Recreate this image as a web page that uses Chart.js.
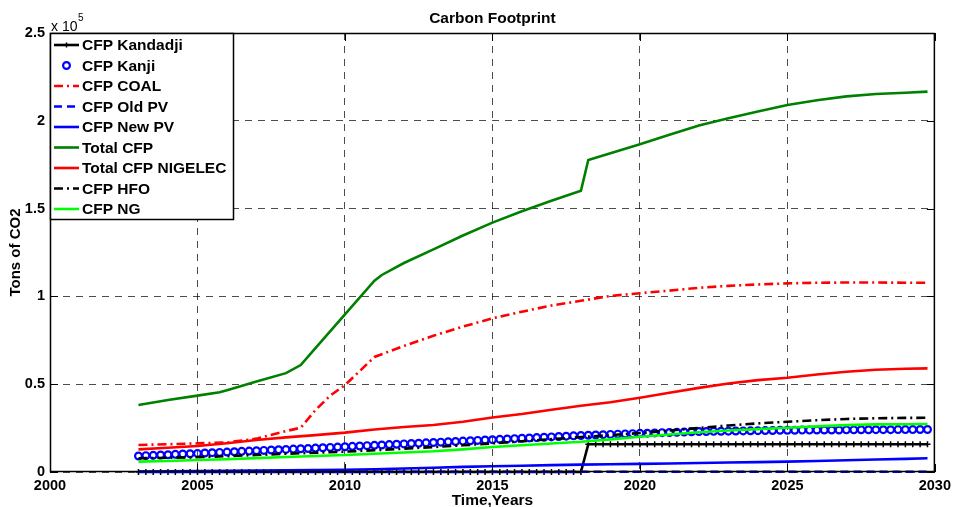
<!DOCTYPE html>
<html>
<head>
<meta charset="utf-8">
<script src="https://cdn.jsdelivr.net/npm/chart.js@4"></script>
<style>
  html, body { margin: 0; padding: 0; background: #fff; }
  #wrap { width: 956px; height: 507px; position: relative; }
</style>
</head>
<body>
<div id="wrap"><canvas id="cfpChart"></canvas></div>
<script>
// tick positions
const xTicks = [2000, 2005, 2010, 2015, 2020, 2025, 2030];
const yTicks = [0, 50000, 100000, 150000, 200000, 250000];

// common yearly grid for most series
const years = [2003, 2004, 2005, 2006, 2007, 2008, 2009, 2010, 2011, 2012, 2013, 2014, 2015, 2016,
    2017, 2018, 2019, 2020, 2021, 2022, 2023, 2024, 2025, 2026, 2027, 2028, 2029, 2029.75];

// quarterly time grid (Kandadji / Kanji are sampled every quarter)
const quarters = [];
for (let q = 0; q < 108; q++) quarters.push(2003 + q / 4);

const kandadji = [
    0, 0, 0, 0, 0, 0, 0, 0, 0, 0, 0, 0, 0, 0, 0, 0, 0, 0, 0, 0,
    0, 0, 0, 0, 0, 0, 0, 0, 0, 0, 0, 0, 0, 0, 0, 0, 0, 0, 0, 0,
    0, 0, 0, 0, 0, 0, 0, 0, 0, 0, 0, 0, 0, 0, 0, 0, 0, 0, 0, 0,
    0,
    15800, 15800, 15800, 15800, 15800, 15800, 15800, 15800, 15800, 15800,
    15800, 15800, 15800, 15800, 15800, 15800, 15800, 15800, 15800, 15800,
    15800, 15800, 15800, 15800, 15800, 15800, 15800, 15800, 15800, 15800,
    15800, 15800, 15800, 15800, 15800, 15800, 15800, 15800, 15800, 15800,
    15800, 15800, 15800, 15800, 15800, 15800, 15800
];

const kanji = [
    9100, 9300, 9500, 9650,      9850, 10050, 10250, 10400,
    10600, 10800, 11000, 11150,  11350, 11550, 11750, 11900,
    12100, 12300, 12500, 12650,  12850, 13050, 13250, 13400,
    13600, 13800, 14000, 14200,  14400, 14600, 14800, 15000,
    15200, 15400, 15600, 15800,  16000, 16200, 16400, 16600,
    16800, 17000, 17200, 17400,  17600, 17800, 18000, 18200,
    18400, 18600, 18800, 19000,  19200, 19400, 19600, 19800,
    20000, 20200, 20400, 20600,  20800, 20950, 21100, 21250,
    21400, 21550, 21700, 21850,  22000, 22100, 22250, 22400,
    22500, 22650, 22750, 22900,  23000, 23050, 23150, 23200,
    23250, 23350, 23400, 23450,  23550, 23600, 23650, 23750,
    23800, 23800, 23850, 23850,  23900, 23900, 23950, 23950,
    24000, 24000, 24050, 24050,  24100, 24100, 24100, 24150,
    24150, 24150, 24200, 24200
];

const coalYears = [2003, 2004, 2005, 2006, 2007, 2008, 2008.5, 2009, 2009.5, 2010, 2010.5, 2011,
    2012, 2013, 2014, 2015, 2016, 2017, 2018, 2019, 2020, 2021, 2022, 2023, 2024, 2025,
    2026, 2027, 2028, 2029, 2029.75];
const coal = [15400, 15800, 16300, 16800, 19000, 23300, 25200, 35300, 43500, 49500, 57500, 65500,
    71800, 77600, 82800, 87500, 91300, 94800, 97500, 100300, 101800, 103300, 104900, 106000, 106800, 107400,
    107800, 107900, 107900, 107800, 107800];

const oldPv = [100, 100, 100, 100, 100, 100, 100, 100, 100, 100, 100, 100, 100, 100,
    100, 100, 100, 100, 100, 100, 100, 100, 100, 100, 100, 100, 100, 100];

const newPv = [300, 400, 500, 650, 800, 900, 1100, 1300, 1600, 2000, 2400, 2900, 3300, 3600,
    3900, 4200, 4400, 4600, 4800, 5100, 5400, 5600, 5900, 6300, 6700, 7100, 7500, 7800];

const totalYears = [2003, 2004, 2005, 2005.75, 2006, 2007, 2008, 2008.5, 2009, 2010, 2011, 2011.25,
    2012, 2013, 2014, 2015, 2016, 2017, 2018, 2018.25, 2019, 2020, 2021, 2022, 2023, 2024,
    2025, 2026, 2027, 2028, 2029, 2029.75];
const totalCfp = [38150, 41000, 43500, 45400, 46600, 51500, 56300, 60900, 70500, 89800, 109000, 112200,
    119000, 126800, 134700, 142000, 148500, 154500, 160200, 177700, 181500, 186600, 192000, 197300, 201500, 205300,
    209000, 211700, 213900, 215300, 216000, 216600];

const nigelec = [12900, 13800, 14800, 16400, 18200, 19700, 21000, 22400, 24200, 25600, 26800, 28600, 31000, 33000,
    35500, 37700, 39700, 42300, 45100, 47900, 50400, 52300, 53700, 55500, 57100, 58200, 58800, 59000];

const hfo = [7800, 8100, 8400, 9000, 9700, 10400, 11000, 11600, 12400, 13300, 14200, 15200, 16300, 17500,
    18700, 19900, 21000, 22200, 23600, 25100, 26500, 27700, 28600, 29500, 30200, 30600, 30800, 30900];

const ng = [5900, 6300, 6800, 7300, 7900, 8500, 9100, 9700, 10400, 11100, 11800, 12900, 14200, 15200,
    16200, 17200, 18600, 20100, 21400, 22600, 23600, 24400, 25200, 26000, 26700, 27100, 27200, 27300];

const toXY = (xs, ys) => ys.map((v, i) => ({ x: xs[i], y: v }));

const FONT = '"Liberation Sans", Arial, sans-serif';
Chart.defaults.font.family = FONT;
Chart.defaults.color = '#000';

const base = { borderWidth: 2.6, pointRadius: 0, tension: 0, clip: false, fill: false };

const datasets = [
    { ...base, label: 'CFP Kandadji', data: toXY(quarters, kandadji), borderColor: '#000',
      pointRadius: 3, pointStyle: 'cross', pointBorderWidth: 1.5, pointBorderColor: '#000' },
    { ...base, label: 'CFP Kanji', data: toXY(quarters, kanji), borderColor: '#0000ff', showLine: false,
      pointRadius: 3.4, pointStyle: 'circle', pointBorderWidth: 2.2, pointBorderColor: '#0000ff',
      pointBackgroundColor: 'rgba(0,0,0,0)' },
    { ...base, label: 'CFP COAL', data: toXY(coalYears, coal), borderColor: '#ff0000', borderDash: [9, 4, 2, 4] },
    { ...base, label: 'CFP Old PV', data: toXY(years, oldPv), borderColor: '#0000ff', borderDash: [8, 5] },
    { ...base, label: 'CFP New PV', data: toXY(years, newPv), borderColor: '#0000ff' },
    { ...base, label: 'Total CFP', data: toXY(totalYears, totalCfp), borderColor: '#008000' },
    { ...base, label: 'Total CFP NIGELEC', data: toXY(years, nigelec), borderColor: '#ff0000' },
    { ...base, label: 'CFP HFO', data: toXY(years, hfo), borderColor: '#000', borderDash: [9, 4, 2, 4] },
    { ...base, label: 'CFP NG', data: toXY(years, ng), borderColor: '#00ff00' }
];
// later series on top, as in the original plot
datasets.forEach((d, i) => { d.order = datasets.length - i; });

const matlabDecor = {
    id: 'matlabDecor',
    afterDraw(chart) {
        const { ctx, chartArea: a, scales: { x, y } } = chart;
        ctx.save();

        // inward tick marks + frame
        ctx.strokeStyle = '#000';
        ctx.lineWidth = 1;
        ctx.setLineDash([]);
        ctx.beginPath();
        xTicks.forEach(t => {
            const px = Math.round(x.getPixelForValue(t)) + 0.5;
            ctx.moveTo(px, a.bottom); ctx.lineTo(px, a.bottom - 8);
            ctx.moveTo(px, a.top); ctx.lineTo(px, a.top + 8);
        });
        yTicks.forEach(t => {
            const py = Math.round(y.getPixelForValue(t)) + 0.5;
            ctx.moveTo(a.left, py); ctx.lineTo(a.left + 8, py);
            ctx.moveTo(a.right, py); ctx.lineTo(a.right - 8, py);
        });
        ctx.stroke();
        ctx.lineWidth = 1.5;
        ctx.strokeRect(a.left + 0.5, a.top + 0.5, a.width - 1, a.height - 1);

        // legend box
        const lx = a.left, ly = a.top, lw = 183, lh = 186, rowH = 20.5;
        ctx.fillStyle = '#fff';
        ctx.fillRect(lx, ly, lw, lh);
        ctx.strokeRect(lx + 0.5, ly + 0.5, lw, lh);
        ctx.font = 'bold 15.5px ' + FONT;
        ctx.textBaseline = 'middle';
        ctx.textAlign = 'left';
        chart.data.datasets.forEach((d, i) => {
            const cy = ly + 12 + i * rowH;
            const x0 = lx + 4, x1 = lx + 29, cx = (x0 + x1) / 2;
            if (d.showLine !== false) {
                ctx.strokeStyle = d.borderColor;
                ctx.lineWidth = 2.6;
                ctx.setLineDash(d.borderDash || []);
                ctx.beginPath();
                ctx.moveTo(x0, cy); ctx.lineTo(x1, cy);
                ctx.stroke();
                ctx.setLineDash([]);
            }
            if (d.pointRadius > 0) {
                ctx.strokeStyle = d.pointBorderColor;
                ctx.lineWidth = d.pointBorderWidth;
                ctx.beginPath();
                if (d.pointStyle === 'circle') {
                    ctx.arc(cx, cy, d.pointRadius, 0, Math.PI * 2);
                } else {
                    ctx.moveTo(cx - 2.5, cy); ctx.lineTo(cx + 2.5, cy);
                    ctx.moveTo(cx, cy - 2.5); ctx.lineTo(cx, cy + 2.5);
                }
                ctx.stroke();
            }
            ctx.fillStyle = '#000';
            ctx.fillText(d.label, lx + 32, cy + 1);
        });

        // title and axis labels
        ctx.fillStyle = '#000';
        ctx.textAlign = 'center';
        ctx.textBaseline = 'alphabetic';
        ctx.font = 'bold 15.5px ' + FONT;
        ctx.fillText('Carbon Footprint', (a.left + a.right) / 2, 22.5);
        ctx.fillText('Time,Years', (a.left + a.right) / 2, 505);

        ctx.save();
        ctx.translate(20, (a.top + a.bottom) / 2);
        ctx.rotate(-Math.PI / 2);
        ctx.font = 'bold 15px ' + FONT;
        ctx.fillText('Tons of CO2', 0, 0);
        ctx.restore();

        // exponent label
        ctx.textAlign = 'left';
        ctx.font = '14px ' + FONT;
        ctx.fillText('x 10', a.left + 1, 30.5);
        ctx.font = '10px ' + FONT;
        ctx.fillText('5', a.left + 28, 21);

        ctx.restore();
    }
};

new Chart(document.getElementById('cfpChart'), {
    type: 'line',
    data: { datasets },
    options: {
        responsive: true,
        maintainAspectRatio: false,
        animation: false,
        layout: { padding: { top: 33, right: 18, left: 0, bottom: 0 } },
        plugins: { legend: { display: false }, title: { display: false }, tooltip: { enabled: false } },
        scales: {
            x: {
                type: 'linear', min: 2000, max: 2030,
                afterFit: s => { s.height = 35; },
                afterBuildTicks: s => { s.ticks = xTicks.map(v => ({ value: v })); },
                ticks: { padding: 5, font: { size: 14.5, weight: 'bold' }, color: '#000', callback: v => String(v) },
                grid: { color: 'rgba(0,0,0,0.7)', lineWidth: 1, drawTicks: false },
                border: { display: false, dash: [7, 6] }
            },
            y: {
                min: 0, max: 250000,
                afterFit: s => { s.width = 50; },
                afterBuildTicks: s => { s.ticks = yTicks.map(v => ({ value: v })); },
                ticks: { padding: 5, font: { size: 14.5, weight: 'bold' }, color: '#000', callback: v => String(v / 1e5) },
                grid: { color: 'rgba(0,0,0,0.7)', lineWidth: 1, drawTicks: false },
                border: { display: false, dash: [7, 6] }
            }
        }
    },
    plugins: [matlabDecor]
});
</script>
</body>
</html>
